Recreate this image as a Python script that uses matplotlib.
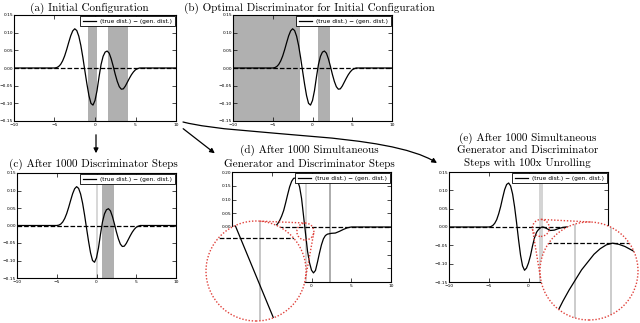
import matplotlib
matplotlib.use("Agg")
import matplotlib.pyplot as plt
from matplotlib.patches import Circle, Ellipse, FancyArrowPatch
from matplotlib.path import Path
from matplotlib.lines import Line2D
from matplotlib.ticker import FuncFormatter, MultipleLocator
import numpy as np

W, H = 640, 323

# (a),(b),(c): true dist. - gen. dist. before any generator update
x_init = [-10, -5.0, -4.75, -4.5, -4.25, -4.0, -3.75, -3.5, -3.25, -3.0, -2.75, -2.5,
          -2.25, -2.0, -1.75, -1.5, -1.25, -1.0, -0.75, -0.5, -0.25, 0.0, 0.25, 0.5,
          0.75, 1.0, 1.25, 1.5, 1.75, 2.0, 2.25, 2.5, 2.75, 3.0, 3.25, 3.5, 3.75, 4.0,
          4.25, 4.5, 4.75, 5.0, 5.25, 5.5, 10]
y_init = [0, 0, 0.001, 0.004, 0.010, 0.020, 0.034, 0.052, 0.072, 0.091, 0.105, 0.111,
          0.106, 0.090, 0.064, 0.030, -0.008, -0.045, -0.078, -0.100, -0.105, -0.092,
          -0.064, -0.025, 0.010, 0.033, 0.045, 0.048, 0.042, 0.026, 0.005, -0.018,
          -0.038, -0.053, -0.060, -0.059, -0.051, -0.040, -0.029, -0.019, -0.011,
          -0.005, -0.002, 0.0, 0]

# (d): simultaneous steps
x_sim = [-10, -5.0, -4.5, -4.25, -4.0, -3.75, -3.5, -3.25, -3.0, -2.75, -2.5, -2.25,
         -2.0, -1.75, -1.5, -1.25, -1.0, -0.75, -0.5, -0.25, 0.0, 0.25, 0.5, 0.75, 1.0,
         1.25, 1.5, 1.75, 2.0, 2.5, 3.0, 3.5, 4.0, 4.5, 5.0, 10]
y_sim = [0, 0, 0.004, 0.012, 0.024, 0.040, 0.060, 0.088, 0.118, 0.146, 0.166, 0.177,
         0.178, 0.168, 0.146, 0.104, 0.040, -0.024, -0.088, -0.130, -0.157, -0.167,
         -0.158, -0.128, -0.095, -0.065, -0.043, -0.031, -0.026, -0.023, -0.022,
         -0.016, -0.009, -0.003, 0, 0]

# (e): 100x unrolling
x_unroll = [-10, -5.0, -4.75, -4.5, -4.25, -4.0, -3.75, -3.5, -3.25, -3.0, -2.75, -2.5,
            -2.25, -2.0, -1.75, -1.5, -1.25, -1.0, -0.75, -0.5, -0.25, 0.0, 0.25, 0.5,
            0.75, 1.0, 1.1, 1.2, 1.25, 1.3, 1.35, 1.4, 1.45, 1.5, 1.55, 1.6, 1.65, 1.7,
            1.75, 1.8, 1.85, 1.9, 1.95, 2.0, 2.2, 2.4, 2.75, 3.25, 3.75, 4.25, 4.75, 10]
y_unroll = [0, 0, 0.001, 0.004, 0.010, 0.020, 0.036, 0.056, 0.080, 0.102, 0.116, 0.120,
            0.112, 0.090, 0.055, 0.012, -0.035, -0.077, -0.106, -0.118, -0.112, -0.098,
            -0.078, -0.052, -0.030, -0.015, -0.0115, -0.0087, -0.0075, -0.0063, -0.0052,
            -0.0042, -0.0033, -0.0024, -0.0017, -0.0010, -0.0005, -0.00015, 0.0, -0.0001,
            -0.0003, -0.0006, -0.0009, -0.0013, -0.0032, -0.0055, -0.0095, -0.0085,
            -0.0045, -0.0015, 0, 0]

# discriminator regions / boundaries
bands_a = [(-0.85, 0.3), (1.65, 4.05)]
bands_b = [(-10, -1.55), (0.65, 2.25)]
bands_c = [(0.7, 2.25)]
lines_c = [0.05]
lines_d = [-0.75, 2.33]
lines_e = [1.45, 1.74]

legend_label = "(true dist.) \u2212 (gen. dist.)"
title_a = "(a) Initial Configuration"
title_b = "(b) Optimal Discriminator for Initial Configuration"
title_c = "(c) After 1000 Discriminator Steps"
title_d = "(d) After 1000 Simultaneous\nGenerator and Discriminator Steps"
title_e = "(e) After 1000 Simultaneous\nGenerator and Discriminator\nSteps with 100x Unrolling"

RED = "#e0403a"
BAND = "0.69"

fig = plt.figure(figsize=(W / 100, H / 100), dpi=100)


def px_axes(l, t, r, b):
    return fig.add_axes([l / W, 1 - b / H, (r - l) / W, (b - t) / H])


def yfmt(v, p):
    return f"{round(v, 2) + 0.0:.2f}".replace("-", "\u2212")


def xfmt(v, p):
    return f"{round(v) + 0:d}".replace("-", "\u2212")


def panel(ax, xs, ys, ylim, bands=(), vlines=(), vcols=()):
    for lo, hi in bands:
        ax.axvspan(lo, hi, color=BAND, lw=0, zorder=0)
    for xv, c in zip(vlines, vcols):
        ax.axvline(xv, color=c, lw=1.2, zorder=1)
    ax.axhline(0, color="k", ls="--", lw=0.9, zorder=2)
    ax.plot(xs, ys, color="k", lw=0.9, label=legend_label, zorder=3)
    ax.set_xlim(-10, 10)
    ax.set_ylim(*ylim)
    ax.xaxis.set_major_locator(MultipleLocator(5))
    ax.yaxis.set_major_locator(MultipleLocator(0.05))
    ax.xaxis.set_major_formatter(FuncFormatter(xfmt))
    ax.yaxis.set_major_formatter(FuncFormatter(yfmt))
    ax.tick_params(direction="in", length=3, width=0.5, labelsize=3.2,
                   top=True, right=True)
    ax.tick_params(axis="y", pad=0.6)
    ax.tick_params(axis="x", pad=1.6)
    for s in ax.spines.values():
        s.set_linewidth(0.8)
    leg = ax.legend(loc="upper right", fontsize=4.2, fancybox=False, edgecolor="k",
                    framealpha=1, borderaxespad=0.25, handlelength=2.2, borderpad=0.4)
    leg.get_frame().set_linewidth(0.6)


ax_a = px_axes(14, 15, 176, 121)
panel(ax_a, x_init, y_init, (-0.15, 0.15), bands=bands_a)
ax_b = px_axes(233, 15, 392, 121)
panel(ax_b, x_init, y_init, (-0.15, 0.15), bands=bands_b)
ax_c = px_axes(17, 173, 176, 278)
panel(ax_c, x_init, y_init, (-0.15, 0.15), bands=bands_c, vlines=lines_c, vcols=["0.82"])
ax_d = px_axes(232, 172, 391, 282)
panel(ax_d, x_sim, y_sim, (-0.2, 0.2), vlines=lines_d, vcols=["0.82", "0.62"])
ax_e = px_axes(449, 172, 608, 282)
panel(ax_e, x_unroll, y_unroll, (-0.15, 0.15), vlines=lines_e, vcols=["0.8", "0.8"])


def zoom_inset(ax_main, xs, ys, vlines, vcol, cx, cy, rbig, x0, hw, y0, hh, rsmall=8.5):
    axi = fig.add_axes([(cx - rbig) / W, 1 - (cy + rbig) / H, 2 * rbig / W, 2 * rbig / H])
    axi.set_xlim(x0 - hw, x0 + hw)
    axi.set_ylim(y0 - hh, y0 + hh)
    axi.set_axis_off()
    bg = Circle((0.5, 0.5), 0.5, transform=axi.transAxes, facecolor="white",
                edgecolor="none", zorder=0)
    axi.add_patch(bg)
    arts = [axi.axhline(0, color="k", ls="--", lw=0.9, zorder=2)]
    arts += [axi.axvline(v, color=vcol, lw=1.1, zorder=1) for v in vlines]
    arts += axi.plot(xs, ys, color="k", lw=0.9, zorder=3)
    for a in arts:
        a.set_clip_path(bg)
    ring = Circle((0.5, 0.5), 0.5, transform=axi.transAxes, fill=False, edgecolor=RED,
                  ls=(0, (1, 1.3)), lw=1.0, clip_on=False, zorder=10)
    axi.add_patch(ring)

    # small circle marking the zoomed spot
    sx, sy = ax_main.transData.transform((x0, y0))
    fig.add_artist(Ellipse((sx / W, sy / H), 2 * rsmall / W, 2 * rsmall / H,
                           transform=fig.transFigure, fill=False, edgecolor=RED,
                           ls=(0, (1, 1.3)), lw=1.0, zorder=20))
    # outer tangents between the two circles
    c1 = np.array([sx, sy])
    c2 = np.array([cx, H - cy])
    d = np.linalg.norm(c2 - c1)
    u = (c2 - c1) / d
    th = np.arccos((rsmall - rbig) / d)
    for sgn in (1, -1):
        a = sgn * th
        n = np.array([u[0] * np.cos(a) - u[1] * np.sin(a), u[0] * np.sin(a) + u[1] * np.cos(a)])
        p1 = c1 + rsmall * n
        p2 = c2 + rbig * n
        fig.add_artist(Line2D([p1[0] / W, p2[0] / W], [p1[1] / H, p2[1] / H],
                              transform=fig.transFigure, color=RED, ls=(0, (1, 1.3)),
                              lw=1.0, zorder=20))


zoom_inset(ax_d, x_sim, y_sim, [lines_d[0]], "0.72", 256, 271, 50, -0.77, 0.238, -0.0165, 0.0252)
zoom_inset(ax_e, x_unroll, y_unroll, lines_e, "0.75", 589, 271, 49, 1.56, 0.395, -0.0025, 0.0044)

tkw = dict(ha="center", va="center", fontfamily="cmr10", fontsize=8.0, linespacing=1.3)
fig.text(89 / W, 1 - 8 / H, title_a, **tkw)
fig.text(309 / W, 1 - 8 / H, title_b, **tkw)
fig.text(93 / W, 1 - 164 / H, title_c, **tkw)
fig.text(309.5 / W, 1 - 157 / H, title_d, **tkw)
fig.text(527.5 / W, 1 - 150 / H, title_e, **tkw)


def fp(x, y):
    return (x / W, 1 - y / H)


akw = dict(arrowstyle="-|>", mutation_scale=7, lw=0.9, color="k", transform=fig.transFigure)
fig.add_artist(FancyArrowPatch(fp(96, 132), fp(96, 156), **akw))
fig.add_artist(FancyArrowPatch(fp(181, 127), fp(217, 155), **akw))
curve = Path([fp(183, 122), fp(243, 137), fp(387, 132), fp(437, 163)],
             [Path.MOVETO, Path.CURVE4, Path.CURVE4, Path.CURVE4])
fig.add_artist(FancyArrowPatch(path=curve, **akw))

fig.savefig("out.png", dpi=100)
